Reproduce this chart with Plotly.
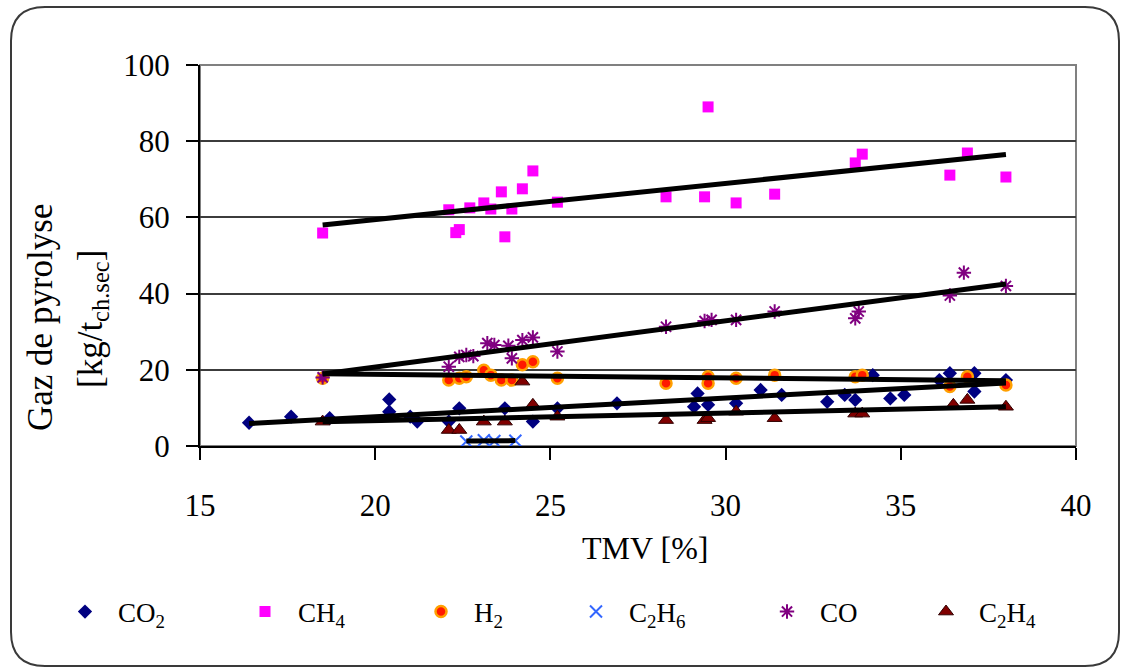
import numpy as np
import plotly.graph_objects as go

# ---------------- data ----------------
co2_x = [16.4, 17.6, 18.7, 20.4, 20.4, 21.0, 21.2, 22.1, 22.4, 23.7, 24.5, 25.2, 26.9, 29.1, 29.2,
         29.5, 30.3, 31.0, 31.6, 32.9, 33.4, 33.7, 34.2, 34.7, 35.1, 36.1, 36.4, 37.1, 37.1, 38.0]
co2_y = [6.1, 7.7, 7.3, 12.2, 9.0, 7.7, 6.4, 6.4, 9.9, 9.9, 6.4, 9.9, 11.2, 10.3, 13.8,
         10.8, 11.2, 14.7, 13.4, 11.6, 13.4, 12.1, 18.6, 12.5, 13.4, 17.3, 19.1, 19.1, 14.3, 17.3]

ch4_x = [18.5, 22.1, 22.3, 22.4, 22.7, 23.1, 23.3, 23.6, 23.7, 23.9, 24.2, 24.5, 25.2,
         28.3, 29.4, 29.5, 30.3, 31.4, 33.7, 33.9, 36.4, 36.9, 38.0]
ch4_y = [55.9, 62.0, 56.0, 56.8, 62.5, 63.8, 62.2, 66.7, 54.9, 62.2, 67.5, 72.2, 64.0,
         65.4, 65.4, 89.0, 63.8, 66.1, 74.3, 76.6, 71.1, 76.9, 70.6]

h2_x = [18.5, 22.1, 22.4, 22.6, 23.1, 23.3, 23.6, 23.9, 24.2, 24.5, 25.2,
        28.3, 29.5, 29.5, 30.3, 31.4, 33.7, 33.9, 36.4, 36.9, 38.0]
h2_y = [17.8, 17.3, 17.8, 18.2, 19.9, 18.6, 17.3, 17.3, 21.3, 22.1, 17.8,
        16.5, 18.2, 16.5, 17.8, 18.6, 18.2, 18.6, 15.6, 18.2, 16.0]

c2h6_x = [22.6, 23.1, 23.4, 24.0]
c2h6_y = [1.2, 1.5, 1.3, 1.4]

co_x = [18.5, 22.1, 22.4, 22.6, 22.8, 23.2, 23.4, 23.8, 23.9, 24.2, 24.5, 25.2,
        28.3, 29.4, 29.6, 30.3, 31.4, 33.7, 33.8, 36.4, 36.8, 38.0]
co_y = [18.0, 20.8, 23.4, 23.9, 23.6, 27.0, 26.5, 26.3, 23.0, 27.8, 28.5, 24.8,
        31.3, 32.8, 33.1, 33.1, 35.3, 33.5, 35.3, 39.5, 45.5, 42.0]

c2h4_x = [18.5, 22.1, 22.4, 23.1, 23.7, 24.2, 24.5, 25.2, 28.3, 29.4, 29.5, 30.3,
          31.4, 33.7, 33.9, 36.5, 36.9, 38.0]
c2h4_y = [6.4, 4.2, 4.2, 6.4, 6.4, 16.9, 10.8, 7.7, 6.8, 6.8, 7.3, 9.0,
          7.3, 8.5, 8.5, 10.8, 12.1, 10.3]

series_names = ["CO<sub>2</sub>", "CH<sub>4</sub>", "H<sub>2</sub>",
                "C<sub>2</sub>H<sub>6</sub>", "CO", "C<sub>2</sub>H<sub>4</sub>"]

x_ticks = [15, 20, 25, 30, 35, 40]
y_ticks = [0, 20, 40, 60, 80, 100]

# ---------------- layout geometry (pixels) ----------------
W, H = 1121, 669
L, R, T, B = 200, 1076, 65, 446
PW, PH = R - L, B - T
FONT = "Liberation Serif"


def px2paper(px, py):
    return (px - L) / PW, (B - py) / PH


styles = [
    dict(symbol="diamond", size=11, color="#000080", line=dict(width=0)),
    dict(symbol="square", size=11, color="#FF00FF", line=dict(width=0)),
    dict(symbol="circle", size=11, color="#FF1A00", line=dict(width=2.5, color="#FFA000")),
    dict(symbol="x-thin-open", size=12, color="#3366FF", line=dict(width=2, color="#3366FF")),
    dict(symbol="asterisk-open", size=12, color="#800080", line=dict(width=2, color="#800080")),
    dict(symbol="triangle-up", size=13, color="#800000", line=dict(width=1, color="#300000")),
]

data = [(co2_x, co2_y), (ch4_x, ch4_y), (h2_x, h2_y), (c2h6_x, c2h6_y), (co_x, co_y), (c2h4_x, c2h4_y)]
legend_marker_px = [85, 265, 441, 596, 787, 946]
ITEMW = 56  # legend symbol area width -> symbol centre at 5 + ITEMW/2

fig = go.Figure()
for i, ((xs, ys), name, st) in enumerate(zip(data, series_names, styles)):
    lg = "legend" if i == 0 else f"legend{i + 1}"
    fig.add_trace(go.Scatter(x=xs, y=ys, mode="markers", name=name, marker=st, legend=lg))

# linear trend lines (least squares over each series' range)
for xs, ys in data:
    xs_a, ys_a = np.array(xs), np.array(ys)
    k, b = np.polyfit(xs_a, ys_a, 1)
    xl = np.array([xs_a.min(), xs_a.max()])
    fig.add_trace(go.Scatter(x=xl, y=k * xl + b, mode="lines", showlegend=False,
                             line=dict(color="black", width=5), hoverinfo="skip"))

# per-item legends placed like the original
legend_y = px2paper(0, 612)[1]
for i, mpx in enumerate(legend_marker_px):
    key = "legend" if i == 0 else f"legend{i + 1}"
    fig.layout[key] = dict(
        x=px2paper(mpx - (5 + ITEMW / 2), 0)[0], y=legend_y, xanchor="left", yanchor="middle",
        orientation="h", bgcolor="rgba(0,0,0,0)", borderwidth=0, itemwidth=ITEMW,
        font=dict(family=FONT, size=27, color="black"), itemsizing="trace",
    )

# rounded outer frame
x0, y0, x1, y1, r = 11, 7, 1119, 666, 34
pts = [
    ("M", x0 + r, y0), ("L", x1 - r, y0), ("Q", x1, y0, x1, y0 + r), ("L", x1, y1 - r),
    ("Q", x1, y1, x1 - r, y1), ("L", x0 + r, y1), ("Q", x0, y1, x0, y1 - r), ("L", x0, y0 + r),
    ("Q", x0, y0, x0 + r, y0),
]
path = ""
for p in pts:
    cmd, coords = p[0], p[1:]
    segs = []
    for j in range(0, len(coords), 2):
        a, bb = px2paper(coords[j], coords[j + 1])
        segs.append(f"{a:.5f},{bb:.5f}")
    path += cmd + " ".join(segs) + " "
path += "Z"

shapes = [
    dict(type="path", xref="paper", yref="paper", path=path,
         line=dict(color="#3a3a3a", width=2), fillcolor="rgba(0,0,0,0)", layer="below"),
    dict(type="rect", xref="paper", yref="paper", x0=0, y0=0, x1=1, y1=1,
         line=dict(color="#808080", width=2), fillcolor="rgba(0,0,0,0)", layer="below"),
]

tx, ty = px2paper(645, 548)
a1x, a1y = px2paper(40, 318)
a2x, a2y = px2paper(92, 319)
annotations = [
    dict(text="TMV [%]", x=tx, y=ty, xref="paper", yref="paper", showarrow=False,
         font=dict(family=FONT, size=32, color="black"), xanchor="center", yanchor="middle"),
    dict(text="Gaz de pyrolyse", x=a1x, y=a1y, xref="paper", yref="paper", showarrow=False,
         textangle=-90, font=dict(family=FONT, size=35, color="black"),
         xanchor="center", yanchor="middle"),
    dict(text="[kg/t<sub>ch.sec</sub>]", x=a2x, y=a2y, xref="paper", yref="paper", showarrow=False,
         textangle=-90, font=dict(family=FONT, size=35, color="black"),
         xanchor="center", yanchor="middle"),
]

fig.update_layout(
    width=W, height=H,
    margin=dict(l=L, r=W - R, t=T, b=H - B, pad=0),
    plot_bgcolor="white", paper_bgcolor="white",
    font=dict(family=FONT, color="black"),
    shapes=shapes, annotations=annotations,
    xaxis=dict(range=[15, 40], tickvals=x_ticks, ticktext=[str(v) for v in x_ticks],
               showgrid=False, zeroline=False, showline=True, linecolor="black", linewidth=2,
               ticks="outside", ticklen=12, tickwidth=2, tickcolor="black",
               tickfont=dict(family=FONT, size=31, color="black"), ticklabelstandoff=19),
    yaxis=dict(range=[0, 100], tickvals=y_ticks, ticktext=[str(v) for v in y_ticks],
               showgrid=True, gridcolor="#3c3c3c", gridwidth=1.5, zeroline=False,
               showline=True, linecolor="black", linewidth=2,
               ticks="outside", ticklen=12, tickwidth=2, tickcolor="black",
               tickfont=dict(family=FONT, size=31, color="black"), ticklabelstandoff=10),
)

fig.write_html("out.html", config={"displayModeBar": False},
               post_script="document.body.style.margin='0';")
